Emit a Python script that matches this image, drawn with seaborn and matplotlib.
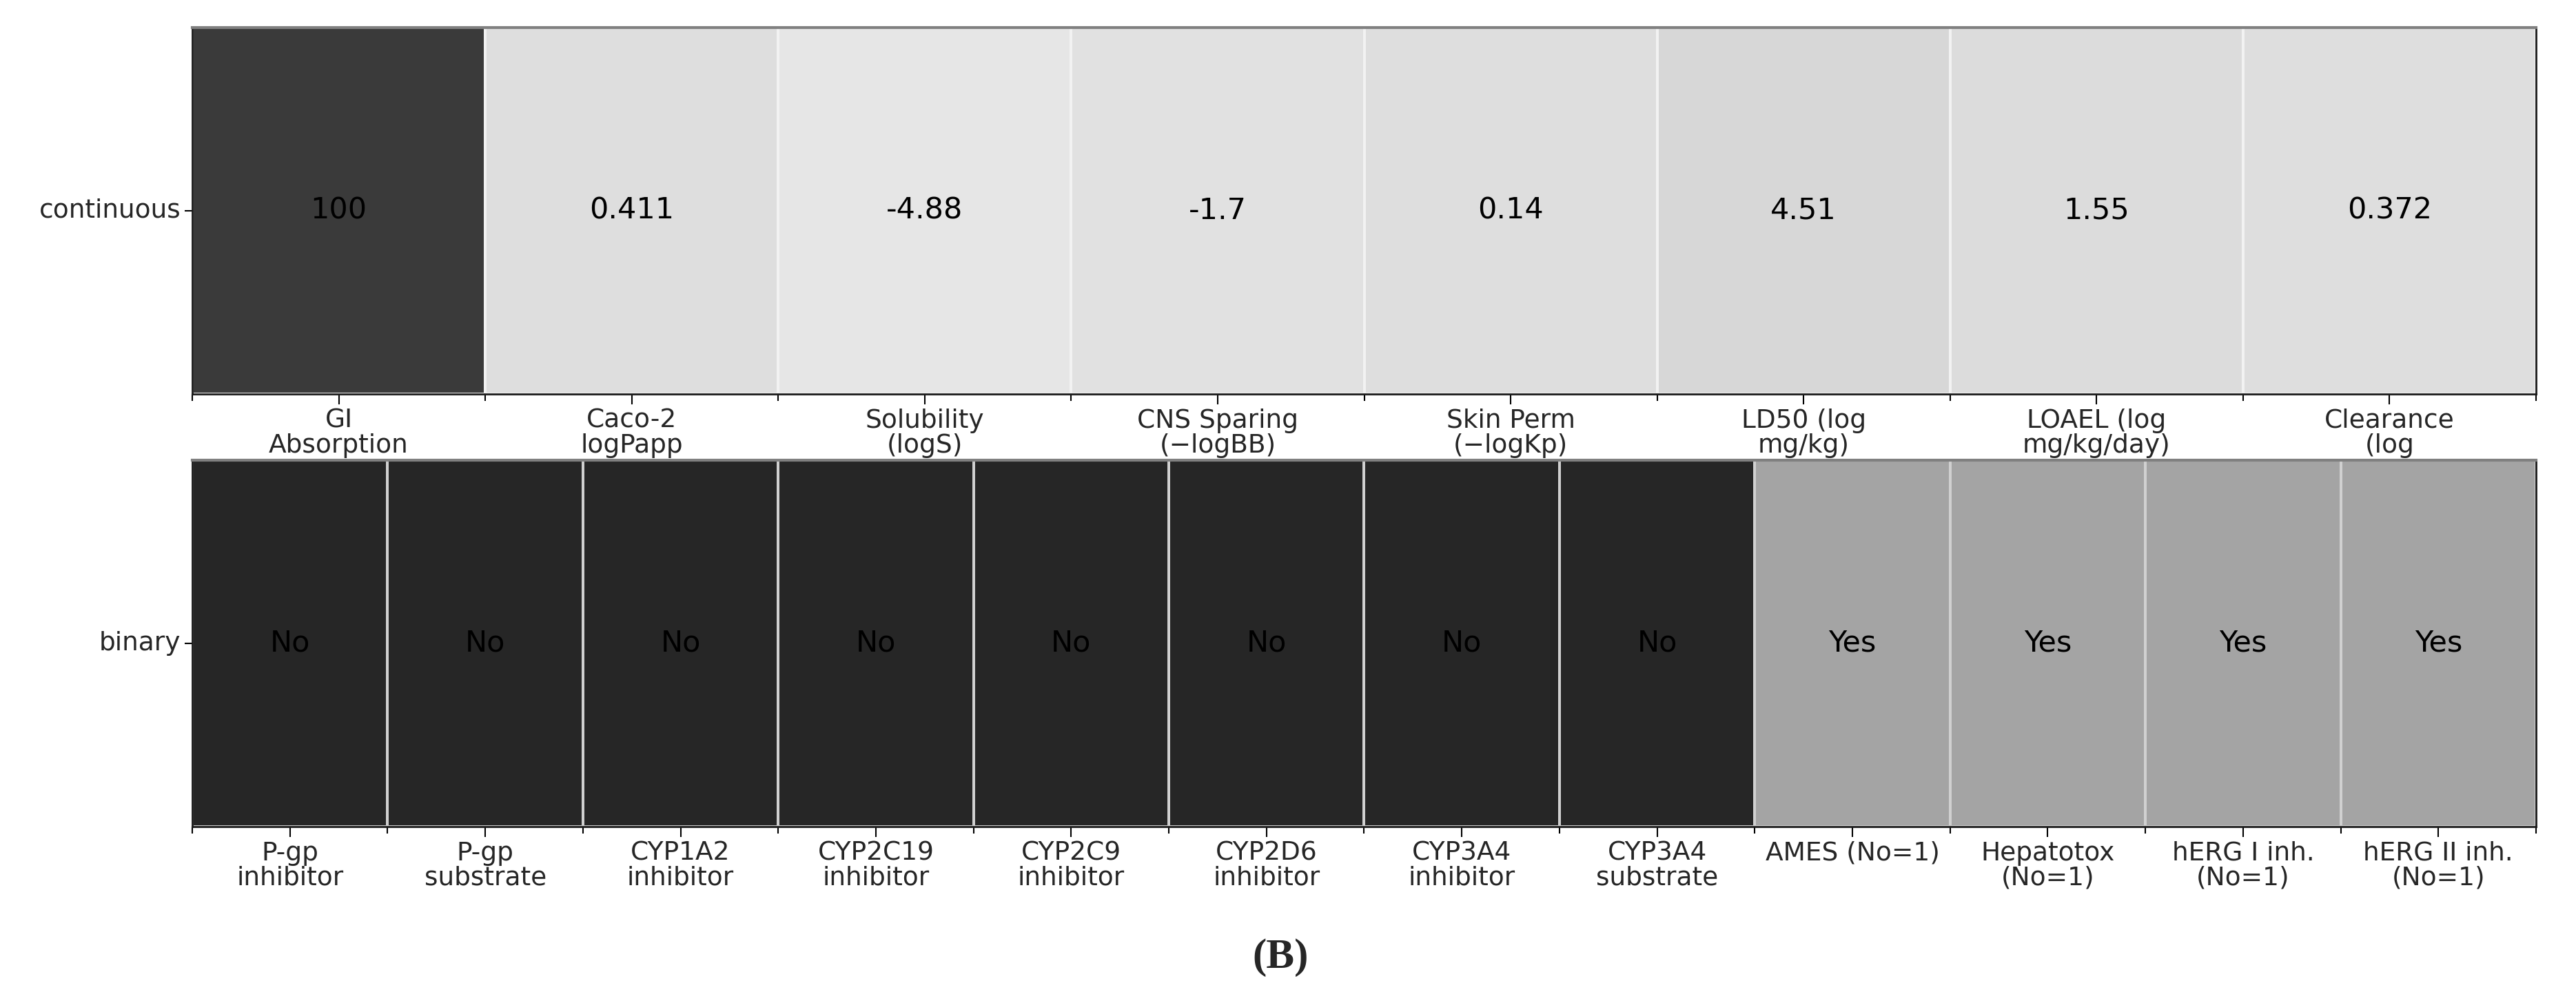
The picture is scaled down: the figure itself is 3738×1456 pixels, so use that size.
import numpy as np
import pandas as pd
import matplotlib
matplotlib.use("Agg")
import matplotlib.pyplot as plt
import seaborn as sns
from matplotlib.colors import LinearSegmentedColormap

# ---------------- data ----------------
cont_labels = ["GI\nAbsorption", "Caco-2\nlogPapp", "Solubility\n(logS)",
               "CNS Sparing\n(\u2212logBB)", "Skin Perm\n(\u2212logKp)",
               "LD50 (log\nmg/kg)", "LOAEL (log\nmg/kg/day)", "Clearance\n(log"]
cont_values = [100, 0.411, -4.88, -1.7, 0.14, 4.51, 1.55, 0.372]
cont_text = ["100", "0.411", "-4.88", "-1.7", "0.14", "4.51", "1.55", "0.372"]

bin_labels = ["P-gp\ninhibitor", "P-gp\nsubstrate", "CYP1A2\ninhibitor",
              "CYP2C19\ninhibitor", "CYP2C9\ninhibitor", "CYP2D6\ninhibitor",
              "CYP3A4\ninhibitor", "CYP3A4\nsubstrate", "AMES (No=1)",
              "Hepatotox\n(No=1)", "hERG I inh.\n(No=1)", "hERG II inh.\n(No=1)"]
bin_values = [0, 0, 0, 0, 0, 0, 0, 0, 1, 1, 1, 1]
bin_text = ["No", "No", "No", "No", "No", "No", "No", "No", "Yes", "Yes", "Yes", "Yes"]

row_cont = ["continuous"]
row_bin = ["binary"]
panel_label = "(B)"

# ---------------- styling ----------------
sns.set_style("white")
plt.rcParams["font.family"] = ["DejaVu Sans"]

W, H, DPI = 3738, 1456, 100
fig = plt.figure(figsize=(W / DPI, H / DPI), dpi=DPI)

L, R = 279 / W, 3680 / W
ax1 = fig.add_axes([L, 1 - 572 / H, R - L, (572 - 40) / H])
ax2 = fig.add_axes([L, 1 - 1200 / H, R - L, (1200 - 668) / H])

cmap_cont = LinearSegmentedColormap.from_list("cont", ["#e6e6e6", "#3a3a3a"])
cmap_bin = LinearSegmentedColormap.from_list("bin", ["#262626", "#a4a4a4"])

df_cont = pd.DataFrame([cont_values], index=row_cont, columns=cont_labels)
df_bin = pd.DataFrame([bin_values], index=row_bin, columns=bin_labels)

ann_size = 31
tick_size = 27

sns.heatmap(df_cont, ax=ax1, cmap=cmap_cont, cbar=False,
            annot=np.array([cont_text]), fmt="",
            annot_kws={"color": "black", "fontsize": ann_size},
            linewidths=1.5, linecolor="#f2f2f2",
            vmin=min(cont_values), vmax=max(cont_values))
sns.heatmap(df_bin, ax=ax2, cmap=cmap_bin, cbar=False,
            annot=np.array([bin_text]), fmt="",
            annot_kws={"color": "black", "fontsize": ann_size},
            linewidths=1.5, linecolor="#d0d0d0",
            vmin=0, vmax=1)

for ax, n in ((ax1, len(cont_labels)), (ax2, len(bin_labels))):
    ax.set_xlabel("")
    ax.set_ylabel("")
    ax.set_xticks(np.arange(0, n + 1), minor=True)
    ax.tick_params(axis="x", which="major", bottom=True, length=11, width=1.5,
                   labelsize=tick_size, pad=4, rotation=0, color="black")
    ax.tick_params(axis="x", which="minor", bottom=True, length=7, width=1.5,
                   color="black")
    ax.tick_params(axis="y", which="major", left=True, length=8, width=1.5,
                   labelsize=tick_size, pad=4, rotation=0, color="black")
    for lab in ax.get_xticklabels():
        lab.set_linespacing(1.0)
        lab.set_ha("center")
    for s in ax.spines.values():
        s.set_visible(True)
        s.set_color("#1a1a1a")
        s.set_linewidth(2)
    ax.spines["top"].set_color("#808080")
    ax.spines["top"].set_linewidth(3)

fig.text(0.497, 1 - 1390 / H, panel_label, ha="center", va="center",
         fontsize=44, fontweight="bold", family=["Liberation Serif", "DejaVu Serif"])

fig.savefig("out.png", dpi=DPI, facecolor="white")
